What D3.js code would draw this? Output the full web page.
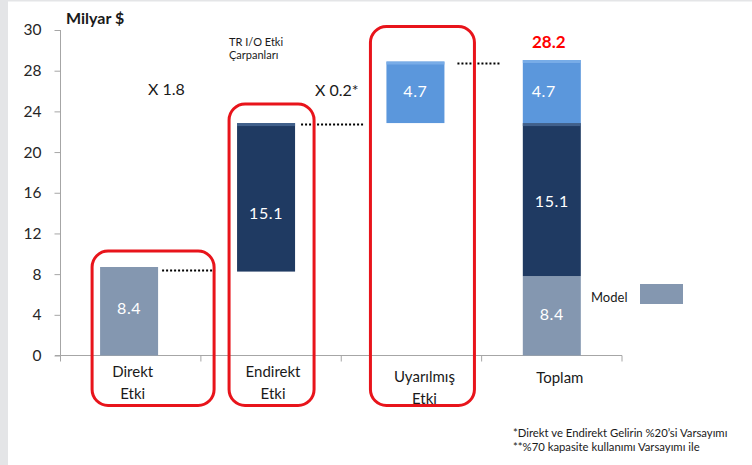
<!DOCTYPE html>
<html>
<head>
<meta charset="utf-8">
<script src="https://cdn.jsdelivr.net/npm/d3@7/dist/d3.min.js"></script>
<style>
  html, body { margin: 0; padding: 0; background: #ffffff; }
  svg { display: block; }
  text { font-family: Lato, "Open Sans", "DejaVu Sans", sans-serif; }
</style>
</head>
<body>
<svg id="chart" width="752" height="465"></svg>
<script>
// ---- data ----
const categories = ["Direkt Etki", "Endirekt Etki", "Uyarılmış Etki", "Toplam"];
const categoryLines = [["Direkt", "Etki"], ["Endirekt", "Etki"], ["Uyarılmış", "Etki"], ["Toplam"]];
const segCategory = ["Direkt Etki", "Endirekt Etki", "Uyarılmış Etki", "Toplam", "Toplam", "Toplam"];
const segSeries = ["direkt", "endirekt", "uyarilmis", "direkt", "endirekt", "uyarilmis"];
const segLow = [0, 8.25, 22.85, 0, 7.8, 22.85];
const segHigh = [8.7, 22.85, 28.9, 7.8, 22.85, 29.05];
const segLabels = ["8.4", "15.1", "4.7", "8.4", "15.1", "4.7"];
const totalLabel = "28.2";
const totalValue = 29.05;
const dotLevels = [8.35, 22.7, 28.7];
const multipliers = ["X 1.8", "X 0.2*"];
const yTickValues = [0, 4, 8, 12, 16, 20, 24, 28, 32];
const yTickLabels = ["0", "4", "8", "12", "16", "20", "24", "28", "30"];
const footnotes = ["*Direkt ve Endirekt Gelirin %20’si Varsayımı", "**%70 kapasite kullanımı Varsayımı ile"];

// ---- styles ----
const colors = { direkt: "#8497b0", endirekt: "#1f3a62", uyarilmis: "#5b97dc" };
const barShift = { "Direkt Etki": -1.6, "Endirekt Etki": -5, "Uyarılmış Etki": 4, "Toplam": 0 };
const labelShift = [[0, -3], [0, 16], [0, -1], [0, -1], [0, 2], [-8, 0]];
const svg = d3.select("#chart");

// background frame strips
svg.append("rect").attr("x", 0).attr("y", 0).attr("width", 752).attr("height", 465).attr("fill", "#ffffff");
svg.append("rect").attr("x", 0).attr("y", 0).attr("width", 8).attr("height", 465).attr("fill", "#e4e5e7");
svg.append("rect").attr("x", 0).attr("y", 0).attr("width", 752).attr("height", 1.5).attr("fill", "#e4e5e7");

const y = d3.scaleLinear().domain([0, 32]).range([355.5, 30]);
const x = d3.scaleBand().domain(categories).range([60.5, 622]).paddingInner(0).paddingOuter(0);
const barW = 58;
const barLeft = c => x(c) + (x.bandwidth() - barW) / 2 + barShift[c];

// y axis
const yAxis = d3.axisLeft(y).tickValues(yTickValues).tickSize(6).tickPadding(13)
  .tickFormat((d, i) => yTickLabels[i]);
const gy = svg.append("g").attr("transform", "translate(60.5,0)").call(yAxis);
gy.select(".domain").attr("stroke", "#a6a6a6").attr("d", "M0,30V355.5");
gy.selectAll(".tick line").attr("stroke", "#a6a6a6");
gy.selectAll(".tick text").attr("font-size", 15.5).attr("fill", "#262626")
  .attr("font-family", "Lato, 'Open Sans', sans-serif");

// x axis
const xAxis = d3.axisBottom(x).tickSize(0).tickFormat("");
const gx = svg.append("g").attr("transform", "translate(0,355.5)").call(xAxis);
gx.select(".domain").attr("stroke", "#a6a6a6").attr("d", "M55,0H622");
gx.selectAll(".tick").remove();
const boundaries = categories.map(c => x(c)).concat([x(categories[categories.length - 1]) + x.bandwidth()]);
gx.selectAll("line.bt").data(boundaries).enter().append("line")
  .attr("x1", d => d).attr("x2", d => d).attr("y1", 0).attr("y2", 6).attr("stroke", "#a6a6a6");

// bars
const segs = segCategory.map((c, i) => ({ c, s: segSeries[i], lo: segLow[i], hi: segHigh[i], label: segLabels[i], sh: labelShift[i] }));
const gb = svg.append("g");
gb.selectAll("rect.bar").data(segs).enter().append("rect")
  .attr("x", d => barLeft(d.c)).attr("width", barW)
  .attr("y", d => y(d.hi)).attr("height", d => y(d.lo) - y(d.hi))
  .attr("fill", d => colors[d.s]);
// subtle bevel highlight at top of darker / light blue segments
gb.selectAll("rect.hl").data(segs.filter(d => d.s !== "direkt")).enter().append("rect")
  .attr("x", d => barLeft(d.c)).attr("width", barW)
  .attr("y", d => y(d.hi)).attr("height", 3)
  .attr("fill", d => d.s === "endirekt" ? "#4a6a96" : "#7fb2ea").attr("opacity", 0.8);
gb.selectAll("text.lbl").data(segs).enter().append("text")
  .attr("x", d => barLeft(d.c) + barW / 2 + d.sh[0])
  .attr("y", d => (y(d.hi) + y(d.lo)) / 2 + 5.5 + d.sh[1])
  .attr("text-anchor", "middle").attr("font-size", 16).attr("fill", "#ffffff")
  .attr("letter-spacing", 0.6)
  .text(d => d.label);

// total label
svg.append("text").attr("x", barLeft("Toplam") + barW / 2 - 3).attr("y", y(totalValue) - 12)
  .attr("text-anchor", "middle").attr("font-size", 17).attr("font-weight", "bold").attr("fill", "#ff0000")
  .text(totalLabel);

// dotted connectors
const dotGap = [4, 6, 13];
dotLevels.forEach((lv, i) => {
  const x1 = barLeft(categories[i]) + barW + dotGap[i];
  const x2 = barLeft(categories[i + 1]) - 22;
  svg.append("line").attr("x1", x1).attr("x2", x2).attr("y1", y(lv)).attr("y2", y(lv))
    .attr("stroke", "#000").attr("stroke-width", 2).attr("stroke-dasharray", "2,2");
});

// red rounded frames
const frameL = [-8, -8, -16], frameR = [56, 19, 30], frameT = [-16, -19, -35];
[0, 1, 2].forEach(i => {
  const c = categories[i];
  const l = barLeft(c) + frameL[i], r = barLeft(c) + barW + frameR[i];
  const t = y(segHigh[i]) + frameT[i], b = 405.5;
  svg.append("rect").attr("x", l).attr("y", t).attr("width", r - l).attr("height", b - t)
    .attr("rx", 16).attr("ry", 16).attr("fill", "none").attr("stroke", "#e8141b").attr("stroke-width", 3);
});

// category labels
const catDx = [2, 2, 13, 8], catDy = [0, 0, 5, 6];
categories.forEach((c, i) => {
  const t = svg.append("text").attr("text-anchor", "middle").attr("font-size", 15).attr("fill", "#1a1a1a");
  categoryLines[i].forEach((ln, j) => {
    t.append("tspan").attr("x", x(c) + x.bandwidth() / 2 + catDx[i]).attr("y", 377 + catDy[i] + j * 21.5).text(ln);
  });
});

// unit title
svg.append("text").attr("x", 66).attr("y", 24).attr("font-size", 16).attr("font-weight", "bold").attr("fill", "#1a1a1a").text("Milyar $");

// multipliers
svg.append("text").attr("x", 148).attr("y", 95).attr("font-size", 16).attr("fill", "#1a1a1a").text(multipliers[0]);
svg.append("text").attr("x", 315).attr("y", 96).attr("font-size", 16).attr("fill", "#1a1a1a").text(multipliers[1]);

// TR I/O note
const tr = svg.append("text").attr("font-size", 11).attr("fill", "#1a1a1a");
tr.append("tspan").attr("x", 229).attr("y", 45.5).text("TR I/O Etki");
tr.append("tspan").attr("x", 229).attr("y", 59).text("Çarpanları");

// legend
svg.append("text").attr("x", 591).attr("y", 301.5).attr("font-size", 13).attr("fill", "#1a1a1a").text("Model");
svg.append("rect").attr("x", 640).attr("y", 284).attr("width", 43).attr("height", 20).attr("fill", colors.direkt);

// footnotes
footnotes.forEach((f, i) => {
  svg.append("text").attr("x", 513).attr("y", 436.5 + i * 14.5).attr("font-size", 11.3).attr("fill", "#1a1a1a").text(f);
});
</script>
</body>
</html>
